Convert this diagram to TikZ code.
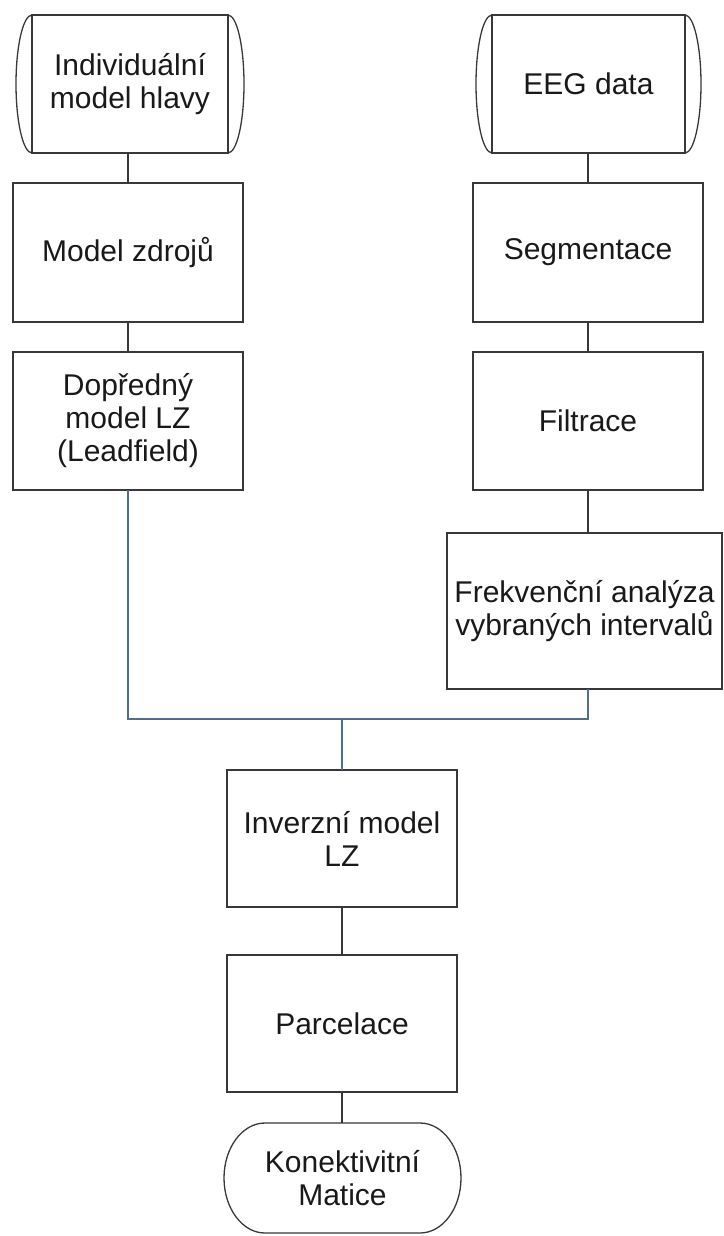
\documentclass[tikz,border=0pt]{standalone}
\usepackage{fontspec}
\setmainfont{Liberation Sans}
\definecolor{linkblue}{RGB}{79,108,145}
\tikzset{
	line/.style={draw=black!78,line width=1.3pt},
	box/.style={line,rectangle,inner sep=0pt,outer sep=0pt,align=center,text=black!90,
		font=\fontsize{30}{33}\selectfont},
	blueline/.style={draw=linkblue,line width=1.3pt}
}
\begin{document}
\begin{tikzpicture}[x=1pt,y=-1pt]
		\useasboundingbox(0,0)rectangle(723,1236);
		% left branch
		\node[box,minimum width=196,minimum height=138](mh)at(130,84){Individuální\\model hlavy};
		\node[box,minimum width=230,minimum height=139](mz)at(128,252.5){Model zdrojů};
		\node[box,minimum width=230,minimum height=138](dm)at(128,421){Dopředný\\model LZ\\(Leadfield)};
		% right branch
		\node[box,minimum width=193,minimum height=138](eeg)at(588.5,84){EEG data};
		\node[box,minimum width=230,minimum height=139](seg)at(588,252.5){Segmentace};
		\node[box,minimum width=230,minimum height=138](fil)at(588,421){Filtrace};
		\node[box,minimum width=275,minimum height=156](fa)at(584.5,611){Frekvenční analýza\\vybraných intervalů};
		% common part
		\node[box,minimum width=230,minimum height=137](inv)at(342,838.5){Inverzní model\\LZ};
		\node[box,minimum width=230,minimum height=137](par)at(342,1023.5){Parcelace};
		\node[box,draw=none,minimum width=237,minimum height=110](km)at(342.5,1178){Konektivitní\\Matice};
		\coordinate(junc)at(342,719);
		% stored data sides
		\foreach \n in {mh,eeg}
			\draw[line](\n.north west)arc[start angle=90,end angle=270,x radius=16pt,y radius=69pt]
				(\n.south east)arc[start angle=-90,end angle=90,x radius=16pt,y radius=69pt];
		% terminal
		\draw[line]([xshift=41pt]km.north west)--([xshift=-41pt]km.north east)
			arc[start angle=90,end angle=-90,x radius=41pt,y radius=55pt]
			--([xshift=41pt]km.south west)
			arc[start angle=270,end angle=90,x radius=41pt,y radius=55pt]--cycle;
		% connectors
		\draw[line](mz.north|-mh.south)--(mz.north) (mz.south)--(dm.north);
		\draw[line](seg.north|-eeg.south)--(seg.north) (seg.south)--(fil.north) (fil.south)--(fil.south|-fa.north);
		\draw[blueline](dm.south)|-(junc)-|(fa.south-|fil.south);
		\draw[blueline](junc)--(inv.north);
		\draw[line](inv.south)--(par.north) (par.south)--(par.south|-km.north);
\end{tikzpicture}
\end{document}
